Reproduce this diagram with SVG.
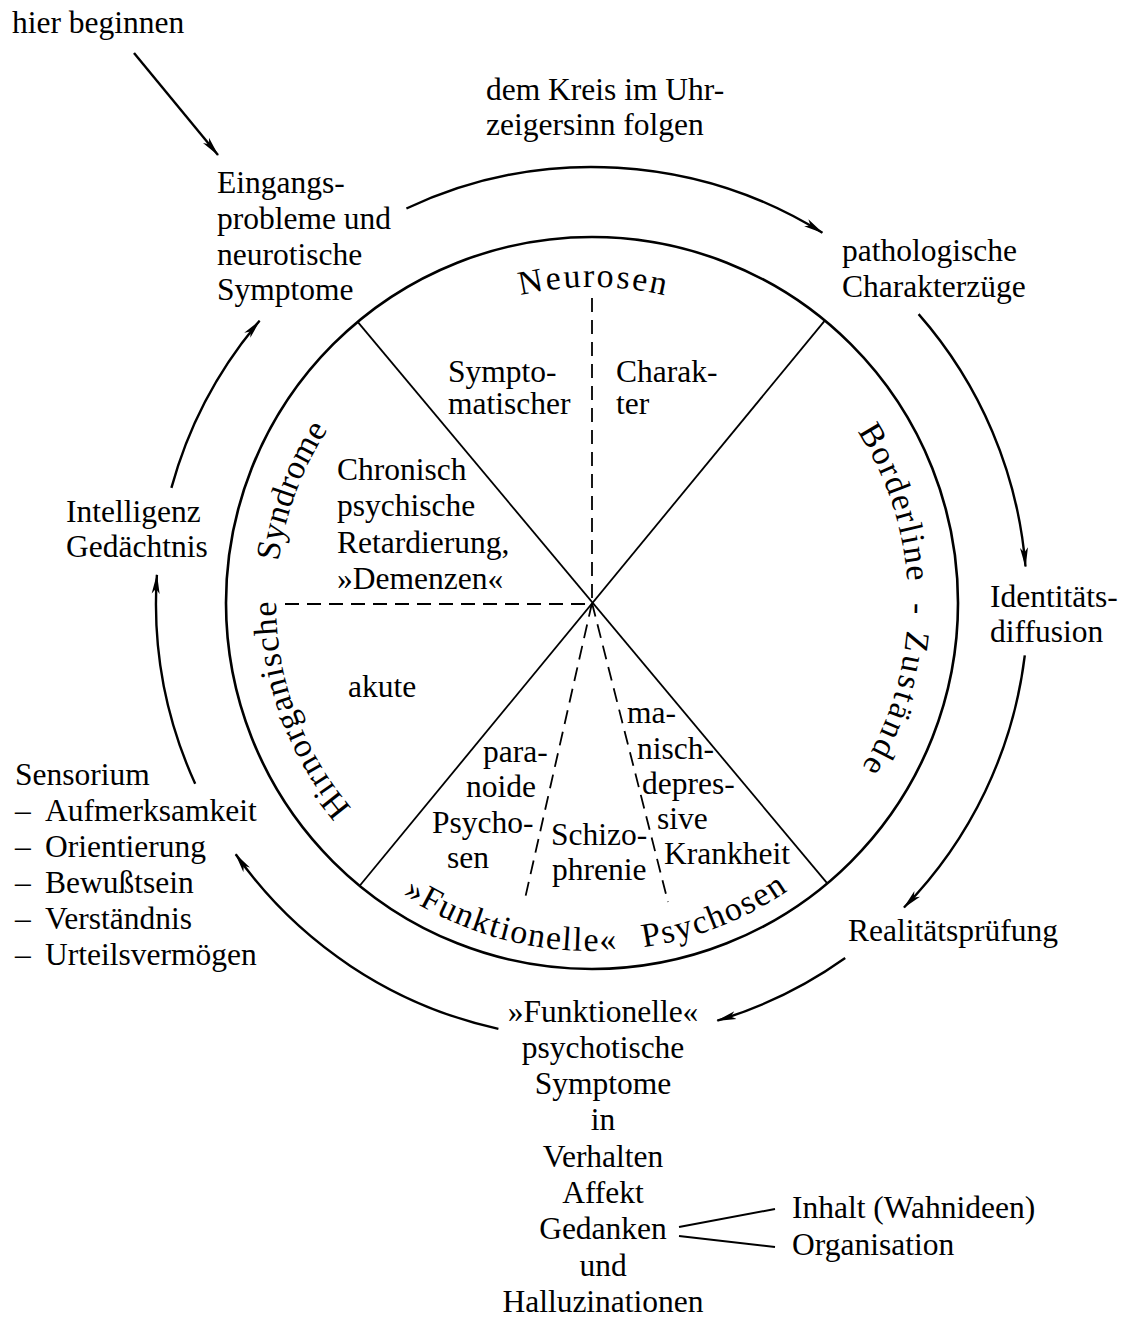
<svg xmlns="http://www.w3.org/2000/svg" xmlns:xlink="http://www.w3.org/1999/xlink" width="1128" height="1317" viewBox="0 0 1128 1317">
<style>
text{font-family:"Liberation Serif","Times New Roman",serif;font-size:31.5px;fill:#000}
.c{text-anchor:middle}
.arc{font-size:34px}
.ln{fill:none;stroke:#000;stroke-width:1.8}
.dash{fill:none;stroke:#000;stroke-width:1.8;stroke-dasharray:14 8}
.arr{fill:none;stroke:#000;stroke-width:2.4;marker-end:url(#ah)}
.thin{fill:none;stroke:#000;stroke-width:2}
</style>
<defs>
<marker id="ah" viewBox="0 0 20 9" refX="19" refY="4.5" markerWidth="20" markerHeight="9" markerUnits="userSpaceOnUse" orient="auto">
<path d="M0,0.5 L20,4.5 L0,8.5 L5,4.5 Z" fill="#000"/>
</marker>
<path id="cw" d="M 592 919 A 316 316 0 1 1 592 287 A 316 316 0 1 1 592 919"/>
<path id="ccw" d="M 244 603 A 348 348 0 0 0 940 603"/>
</defs>
<rect width="1128" height="1317" fill="#fff"/>

<g id="wheel">
<circle cx="592" cy="603" r="366" fill="none" stroke="#000" stroke-width="2.6"/>
<line class="ln" x1="357.7" y1="321.8" x2="827.3" y2="883.4"/>
<line class="ln" x1="824.8" y1="320.6" x2="359.7" y2="885.8"/>
<line class="dash" x1="592" y1="298" x2="592" y2="603"/>
<line class="dash" x1="285" y1="604" x2="592" y2="604"/>
<line class="dash" x1="592" y1="603" x2="524" y2="903"/>
<line class="dash" x1="592" y1="603" x2="668" y2="902"/>
</g>

<g id="arc-labels">
<text class="arc" letter-spacing="1.2"><textPath xlink:href="#cw" href="#cw" startOffset="273">Hirnorganische</textPath></text>
<text class="arc" letter-spacing="0.3"><textPath xlink:href="#cw" href="#cw" startOffset="538">Syndrome</textPath></text>
<text class="arc" letter-spacing="2.2"><textPath xlink:href="#cw" href="#cw" startOffset="994" text-anchor="middle">Neurosen</textPath></text>
<text class="arc" letter-spacing="1.6"><textPath xlink:href="#cw" href="#cw" startOffset="1307">Borderline</textPath></text>
<text class="arc"><textPath xlink:href="#cw" href="#cw" startOffset="1494" text-anchor="middle">-</textPath></text>
<text class="arc" letter-spacing="3"><textPath xlink:href="#cw" href="#cw" startOffset="1516">Zustände</textPath></text>
<text class="arc" font-size="33" letter-spacing="1.5"><textPath xlink:href="#ccw" href="#ccw" startOffset="346">»Funktionelle«</textPath></text>
<text class="arc" font-size="33" letter-spacing="1.6"><textPath xlink:href="#ccw" href="#ccw" startOffset="598">Psychosen</textPath></text>
</g>

<g id="neurosen-symptom">
<text x="448" y="382">Sympto-</text>
<text x="448" y="414">matischer</text>
</g>
<g id="neurosen-charakter">
<text x="616" y="382">Charak-</text>
<text x="616" y="414">ter</text>
</g>
<g id="chronisch">
<text x="337" y="480">Chronisch</text>
<text x="337" y="516">psychische</text>
<text x="337" y="553">Retardierung,</text>
<text x="337" y="589">»Demenzen«</text>
</g>
<g id="akute">
<text x="348" y="697">akute</text>
</g>
<g id="paranoide">
<text x="483" y="762">para-</text>
<text x="466" y="797">noide</text>
<text x="432" y="833">Psycho-</text>
<text x="447" y="868">sen</text>
</g>
<g id="schizophrenie">
<text x="551" y="845">Schizo-</text>
<text x="552" y="880">phrenie</text>
</g>
<g id="manisch">
<text x="627" y="723">ma-</text>
<text x="637" y="759">nisch-</text>
<text x="642" y="794">depres-</text>
<text x="657" y="829">sive</text>
<text x="664" y="864">Krankheit</text>
</g>

<g id="hier-beginnen">
<text x="12" y="33">hier beginnen</text>
</g>
<g id="uhrzeigersinn">
<text x="486" y="100">dem Kreis im Uhr-</text>
<text x="486" y="135">zeigersinn folgen</text>
</g>
<g id="eingangsprobleme">
<text x="217" y="193">Eingangs-</text>
<text x="217" y="229">probleme und</text>
<text x="217" y="265">neurotische</text>
<text x="217" y="300">Symptome</text>
</g>
<g id="charakterzuege">
<text x="842" y="261">pathologische</text>
<text x="842" y="297">Charakterzüge</text>
</g>
<g id="identitaet">
<text x="990" y="607">Identitäts-</text>
<text x="990" y="642">diffusion</text>
</g>
<g id="realitaet">
<text x="848" y="941">Realitätsprüfung</text>
</g>
<g id="funktionelle-symptome">
<text class="c" x="603" y="1022">»Funktionelle«</text>
<text class="c" x="603" y="1058">psychotische</text>
<text class="c" x="603" y="1094">Symptome</text>
<text class="c" x="603" y="1130">in</text>
<text class="c" x="603" y="1167">Verhalten</text>
<text class="c" x="603" y="1203">Affekt</text>
<text class="c" x="603" y="1239">Gedanken</text>
<text class="c" x="603" y="1276">und</text>
<text class="c" x="603" y="1312">Halluzinationen</text>
</g>
<g id="gedanken-inhalt">
<text x="792" y="1218">Inhalt (Wahnideen)</text>
<text x="792" y="1255">Organisation</text>
</g>
<g id="sensorium">
<text x="15" y="785">Sensorium</text>
<text x="15" y="821">–</text><text x="45" y="821">Aufmerksamkeit</text>
<text x="15" y="857">–</text><text x="45" y="857">Orientierung</text>
<text x="15" y="893">–</text><text x="45" y="893">Bewußtsein</text>
<text x="15" y="929">–</text><text x="45" y="929">Verständnis</text>
<text x="15" y="965">–</text><text x="45" y="965">Urteilsvermögen</text>
</g>
<g id="intelligenz">
<text x="66" y="522">Intelligenz</text>
<text x="66" y="557">Gedächtnis</text>
</g>

<g id="connectors">
<line class="arr" x1="134" y1="53" x2="218" y2="155"/>
<path class="arr" d="M 406.4 208.5 A 436 436 0 0 1 822.4 232.8"/>
<path class="arr" d="M 918.6 314.1 A 436 436 0 0 1 1025.5 566.5"/>
<path class="arr" d="M 1024.8 655.4 A 436 436 0 0 1 904 907.5"/>
<path class="arr" d="M 845.2 958 A 436 436 0 0 1 717.3 1020.6"/>
<path class="arr" d="M 498.4 1028.8 A 436 436 0 0 1 235.7 854.3"/>
<path class="arr" d="M 195.2 783.8 A 436 436 0 0 1 156.9 574.9"/>
<path class="arr" d="M 171.4 487.9 A 436 436 0 0 1 259.6 320.8"/>
<line class="thin" x1="679" y1="1227" x2="775" y2="1209"/>
<line class="thin" x1="679" y1="1236" x2="775" y2="1247"/>
</g>
</svg>
